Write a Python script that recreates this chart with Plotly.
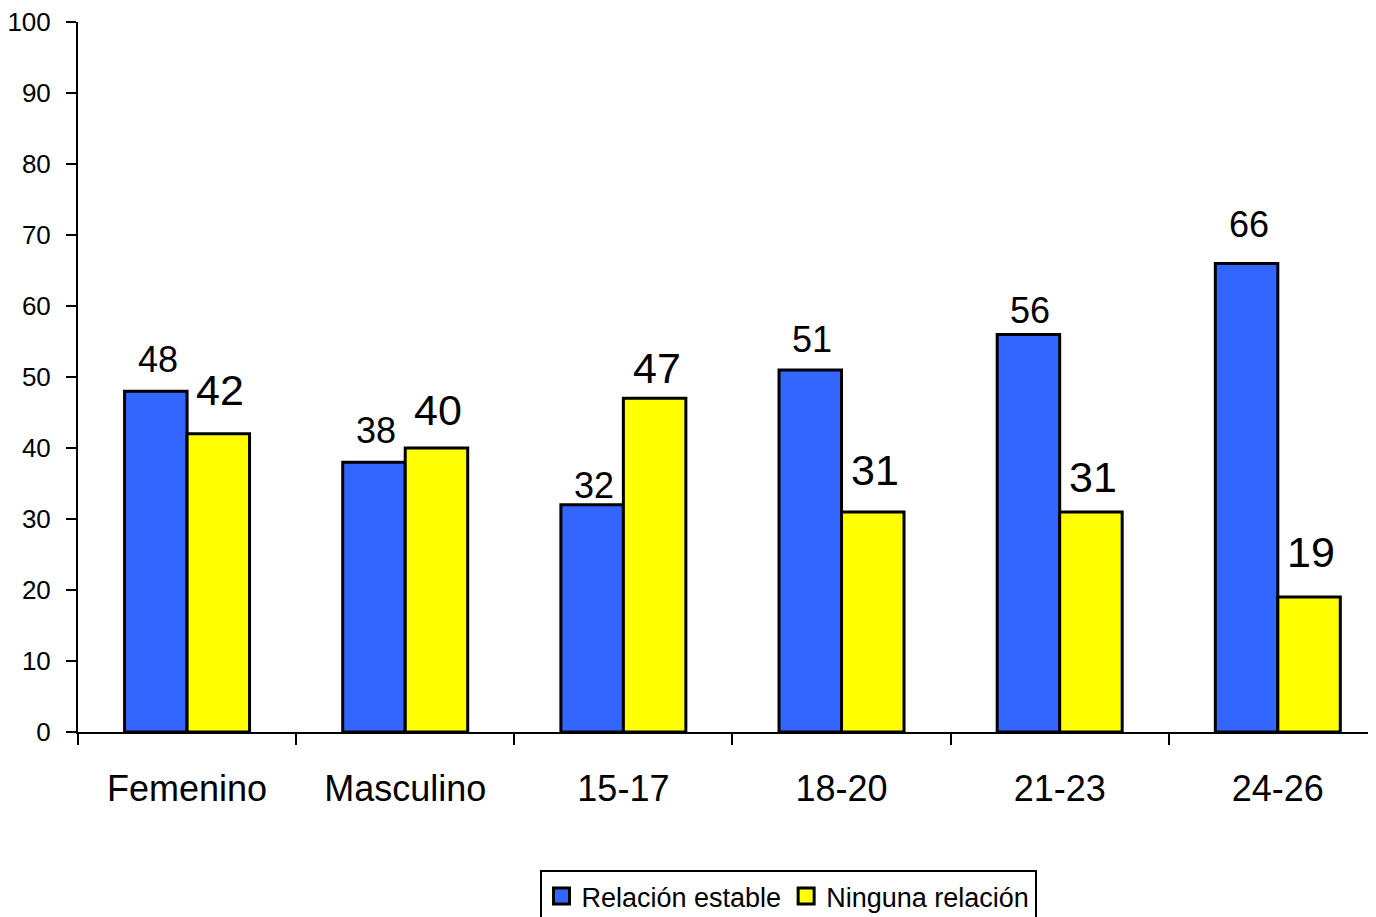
import plotly.graph_objects as go

categories = ["Femenino", "Masculino", "15-17", "18-20", "21-23", "24-26"]
relacion_estable = [48, 38, 32, 51, 56, 66]
ninguna_relacion = [42, 40, 47, 31, 31, 19]
series_names = ["Relación estable", "Ninguna relación"]
y_ticks = [0, 10, 20, 30, 40, 50, 60, 70, 80, 90, 100]

# label gaps (px between bar top and text baseline) as in the original
gap_blue = [19, 19, 7, 18, 11, 26]
gap_yellow = [29, 23, 15, 27, 20, 30]

BLUE = "#3366FF"
YELLOW = "#FFFF00"
FONT = "Liberation Sans, Arial, sans-serif"

# the page body has an 8px margin, so the figure is sized/offset to compensate
W, H = 1368, 909
ML, MR, MT, MB = 70, 0, 14, 185
plot_w = W - ML - MR
plot_h = H - MT - MB
ppu = 218.15
xmax = -0.5 + plot_w / ppu
bargap = 0.427
bar_px = (1 - bargap) / 2 * ppu

fig = go.Figure()
fig.add_trace(go.Bar(x=categories, y=relacion_estable, name=series_names[0], showlegend=False,
                     marker=dict(color=BLUE, line=dict(color="black", width=3))))
fig.add_trace(go.Bar(x=categories, y=ninguna_relacion, name=series_names[1], showlegend=False,
                     marker=dict(color=YELLOW, line=dict(color="black", width=3))))
# legend entries (square swatches with thick black outline)
for name, col in zip(series_names, [BLUE, YELLOW]):
    fig.add_trace(go.Scatter(x=[None], y=[None], mode="markers", name=name, showlegend=True,
                             marker=dict(symbol="square", size=17, color=col,
                                         line=dict(color="black", width=3))))

ann = []
for i, c in enumerate(categories):
    ann.append(dict(x=c, y=relacion_estable[i], xref="x", yref="y", text=str(relacion_estable[i]),
                    showarrow=False, xshift=-bar_px / 2 + 2, yanchor="bottom",
                    yshift=gap_blue[i] - 10, font=dict(family=FONT, size=36, color="black")))
    ann.append(dict(x=c, y=ninguna_relacion[i], xref="x", yref="y", text=str(ninguna_relacion[i]),
                    showarrow=False, xshift=bar_px / 2 + 2, yanchor="bottom",
                    yshift=gap_yellow[i] - 11, font=dict(family=FONT, size=43, color="black")))

fig.update_layout(
    width=W, height=H,
    margin=dict(l=ML, r=MR, t=MT, b=MB, pad=0, autoexpand=False),
    paper_bgcolor="white", plot_bgcolor="white",
    barmode="group", bargap=bargap, bargroupgap=0,
    showlegend=True,
    legend=dict(orientation="h", x=(780 - ML) / plot_w, xanchor="center",
                y=(724 - 862) / plot_h, yanchor="top",
                bordercolor="black", borderwidth=2, bgcolor="white",
                font=dict(family=FONT, size=27, color="black"),
                itemwidth=30, tracegroupgap=0),
    annotations=ann,
    xaxis=dict(type="category", range=[-0.5, xmax], showgrid=False, automargin=False,
               showline=True, linecolor="black", linewidth=2,
               ticks="outside", tickson="boundaries", ticklen=11, tickwidth=2, tickcolor="black",
               tickfont=dict(family=FONT, size=36, color="black"),
               ticklabelstandoff=24, ticklabeloverflow="allow", zeroline=False),
    yaxis=dict(range=[0, 100], tickvals=y_ticks, showgrid=False, automargin=False,
               showline=True, linecolor="black", linewidth=2,
               ticks="outside", ticklen=10, tickwidth=2, tickcolor="black",
               tickfont=dict(family=FONT, size=26, color="black"),
               ticklabelstandoff=10, ticklabeloverflow="allow", zeroline=False),
)

fig.write_html("out.html")
